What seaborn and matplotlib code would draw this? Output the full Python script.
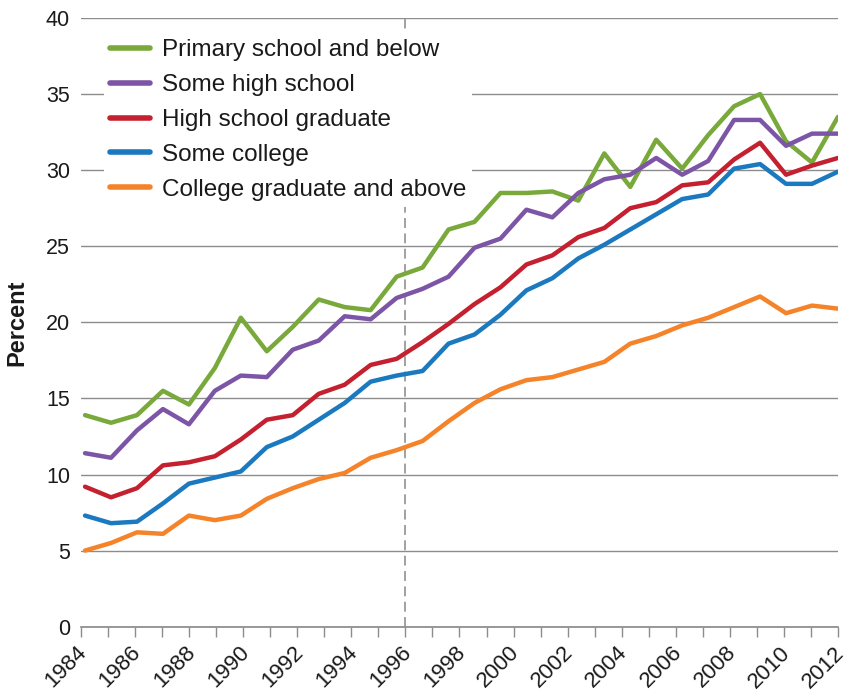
import numpy as np
import pandas as pd
import matplotlib
matplotlib.use("Agg")
import matplotlib.pyplot as plt
import matplotlib.transforms as mtransforms
import seaborn as sns

groups = ["Primary school and below", "Some high school", "High school graduate",
          "Some college", "College graduate and above"]
colors = ["#78A93A", "#7D55A6", "#C4202F", "#1B79BF", "#F5832A"]

primary = [13.9, 13.4, 13.9, 15.5, 14.6, 17.0, 20.3, 18.1, 19.7, 21.5,
           21.0, 20.8, 23.0, 23.6, 26.1, 26.6, 28.5, 28.5, 28.6, 28.0,
           31.1, 28.9, 32.0, 30.1, 32.3, 34.2, 35.0, 31.9, 30.5, 33.5]
some_high = [11.4, 11.1, 12.9, 14.3, 13.3, 15.5, 16.5, 16.4, 18.2, 18.8,
             20.4, 20.2, 21.6, 22.2, 23.0, 24.9, 25.5, 27.4, 26.9, 28.5,
             29.4, 29.7, 30.8, 29.7, 30.6, 33.3, 33.3, 31.6, 32.4, 32.4]
hs_grad = [9.2, 8.5, 9.1, 10.6, 10.8, 11.2, 12.3, 13.6, 13.9, 15.3,
           15.9, 17.2, 17.6, 18.7, 19.9, 21.2, 22.3, 23.8, 24.4, 25.6,
           26.2, 27.5, 27.9, 29.0, 29.2, 30.7, 31.8, 29.7, 30.3, 30.8]
some_college = [7.3, 6.8, 6.9, 8.1, 9.4, 9.8, 10.2, 11.8, 12.5, 13.6,
                14.7, 16.1, 16.5, 16.8, 18.6, 19.2, 20.5, 22.1, 22.9, 24.2,
                25.1, 26.1, 27.1, 28.1, 28.4, 30.1, 30.4, 29.1, 29.1, 29.9]
college_plus = [5.0, 5.5, 6.2, 6.1, 7.3, 7.0, 7.3, 8.4, 9.1, 9.7,
                10.1, 11.1, 11.6, 12.2, 13.5, 14.7, 15.6, 16.2, 16.4, 16.9,
                17.4, 18.6, 19.1, 19.8, 20.3, 21.0, 21.7, 20.6, 21.1, 20.9]
series = [primary, some_high, hs_grad, some_college, college_plus]

first_year, last_year, marked_year = 1984, 2012, 1996
year_ticks = list(range(first_year, last_year + 1))
year_labels = [str(y) if y % 2 == 0 else "" for y in year_ticks]

# the 30 observations are spread evenly over the 1984-2012 axis
pos = np.linspace(first_year + 0.15, last_year, len(primary))

rows = []
for name, vals in zip(groups, series):
    for p, v in zip(pos, vals):
        rows.append([name, p, v])
df = pd.DataFrame(rows, columns=["Group", "Year", "Percent"])

sns.set_theme(style="white")
plt.rcParams["font.family"] = ["Liberation Sans", "DejaVu Sans"]

fig = plt.figure(figsize=(8.49, 6.97), dpi=100)
ax = fig.add_axes([0.0954, 0.1009, 0.8916, 0.8733])

ax.axvline(marked_year, color="#9a9a9a", lw=1.3, ls=(0, (5.5, 3)), zorder=1)
sns.lineplot(data=df, x="Year", y="Percent", hue="Group", hue_order=groups,
             palette=colors, linewidth=3.2, ax=ax, zorder=3)

ax.set_xlim(first_year, last_year)
ax.set_ylim(0, 40)
ax.set_yticks(range(0, 41, 5))
ax.yaxis.grid(True, color="#8c8c8c", lw=1)
ax.set_axisbelow(True)
ax.tick_params(axis="y", length=0, pad=8, labelsize=15.5, labelcolor="#1a1a1a")

ax.set_xticks(year_ticks)
ax.set_xticklabels(year_labels, rotation=45, ha="right", va="center",
                   rotation_mode="anchor")
ax.tick_params(axis="x", direction="out", length=7.5, width=1, color="#8c8c8c",
               pad=9, labelsize=16, labelcolor="#1a1a1a", bottom=True)
shift = mtransforms.ScaledTranslation(2 / 72, 0, fig.dpi_scale_trans)
for lab in ax.get_xticklabels():
    lab.set_transform(lab.get_transform() + shift)

for s in ["left", "right", "top"]:
    ax.spines[s].set_visible(False)
ax.spines["bottom"].set_color("#8c8c8c")

ax.set_xlabel("")
ax.set_ylabel("Percent", fontsize=17, fontweight="bold", color="#1a1a1a")
ax.yaxis.set_label_coords(-0.070, 0.5)

handles, labels = ax.get_legend_handles_labels()
leg = ax.legend(handles, labels, loc="upper left", bbox_to_anchor=(0.03, 0.975),
                borderaxespad=0, borderpad=0.25, fontsize=17.5, handlelength=1.65,
                handletextpad=0.5, labelspacing=0.53, frameon=True,
                facecolor="white", edgecolor="none", framealpha=1, fancybox=False)
leg.set_zorder(5)
for line in leg.get_lines():
    line.set_linewidth(4)
for t in leg.get_texts():
    t.set_color("#1a1a1a")

fig.savefig("out.png", dpi=100)
